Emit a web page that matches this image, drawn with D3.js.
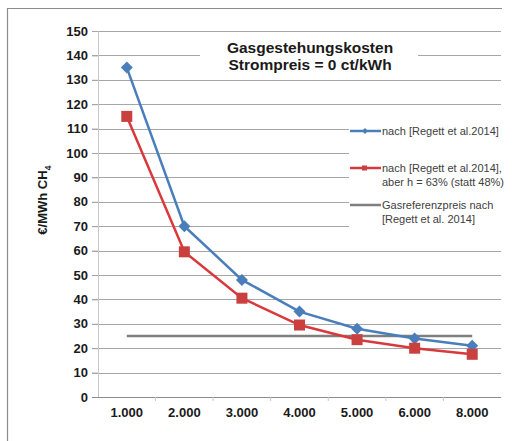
<!DOCTYPE html>
<html>
<head>
<meta charset="utf-8">
<script src="https://cdn.jsdelivr.net/npm/d3@7"></script>
<style>
  body { margin: 0; background: #fff; }
  svg { display: block; font-family: "Liberation Sans", Arial, sans-serif; }
</style>
</head>
<body>
<svg id="chart" width="521" height="441"></svg>
<script>
const categories = ["1.000", "2.000", "3.000", "4.000", "5.000", "6.000", "8.000"];
const seriesBlue = [135, 70, 48, 35, 28, 24, 21];
const seriesRed = [115, 59.5, 40.5, 29.5, 23.5, 20, 17.5];
const seriesRef = [25, 25, 25, 25, 25, 25, 25];
const yTicks = [0, 10, 20, 30, 40, 50, 60, 70, 80, 90, 100, 110, 120, 130, 140, 150];
const legendLabels = [
  ["nach [Regett et al.2014]"],
  ["nach [Regett et al.2014],", "aber h = 63% (statt 48%)"],
  ["Gasreferenzpreis nach", "[Regett et al. 2014]"]
];
const titleLines = ["Gasgestehungskosten", "Strompreis = 0 ct/kWh"];
const yTitle = "€/MWh CH";

const svg = d3.select("#chart");
const L = 98, R = 501, T = 31, B = 397;

const x = d3.scaleBand().domain(categories).range([L, R]);
const xc = c => x(c) + x.bandwidth() / 2;
const y = d3.scaleLinear().domain([0, 150]).range([B, T]);

// frame
svg.append("line").attr("x1", 7).attr("x2", 502).attr("y1", 8.5).attr("y2", 8.5)
  .attr("stroke", "#8c8c8c").attr("stroke-width", 1.2);
svg.append("line").attr("x1", 7.5).attr("x2", 7.5).attr("y1", 8).attr("y2", 441)
  .attr("stroke", "#8c8c8c").attr("stroke-width", 1.2);

// gridlines
svg.append("g").selectAll("line").data(yTicks.filter(d => d > 0)).join("line")
  .attr("x1", L - 6).attr("x2", R)
  .attr("y1", d => Math.round(y(d)) + 0.5).attr("y2", d => Math.round(y(d)) + 0.5)
  .attr("stroke", "#a6a6a6").attr("stroke-width", 1);

// y axis
const yAxis = svg.append("g").attr("transform", `translate(${L},0)`)
  .call(d3.axisLeft(y).tickValues(yTicks).tickSize(6).tickPadding(4));
yAxis.select(".domain").attr("stroke", "#c8c8c8");
yAxis.selectAll(".tick line").attr("stroke", "#a6a6a6");
yAxis.selectAll("text").attr("font-size", 13).attr("font-weight", "bold").attr("fill", "#1a1a1a");

// x axis
const xAxis = svg.append("g").attr("transform", `translate(0,${Math.round(B) + 0.5})`)
  .call(d3.axisBottom(x).tickSize(0).tickPadding(10));
xAxis.select(".domain").attr("stroke", "#8c8c8c").attr("d", `M${L - 6},0H${R}`);
xAxis.selectAll("text").attr("font-size", 13).attr("font-weight", "bold").attr("fill", "#1a1a1a");
svg.append("g").selectAll("line").data(categories.slice(1)).join("line")
  .attr("x1", d => x(d)).attr("x2", d => x(d))
  .attr("y1", B).attr("y2", B + 4).attr("stroke", "#c8c8c8");

// title background + title
svg.append("rect").attr("x", 200).attr("y", 36).attr("width", 218).attr("height", 40).attr("fill", "#fff");
svg.append("g").selectAll("text").data(titleLines).join("text")
  .attr("x", 310).attr("y", (d, i) => 53 + i * 17)
  .attr("text-anchor", "middle").attr("font-size", 15.5).attr("font-weight", "bold")
  .attr("fill", "#1a1a1a").text(d => d);

// y title
const yt = svg.append("text").attr("transform", "translate(47,200) rotate(-90)")
  .attr("text-anchor", "middle").attr("font-size", 13).attr("font-weight", "bold").attr("fill", "#1a1a1a");
yt.append("tspan").text(yTitle);
yt.append("tspan").attr("font-size", 9).attr("dy", 4).text("4");

// lines
const line = d3.line().x((d, i) => xc(categories[i])).y(d => y(d));
svg.append("path").datum(seriesRef).attr("d", line).attr("fill", "none")
  .attr("stroke", "#7f7f7f").attr("stroke-width", 2.5);
svg.append("path").datum(seriesBlue).attr("d", line).attr("fill", "none")
  .attr("stroke", "#4a7ebb").attr("stroke-width", 2.5);
svg.append("path").datum(seriesRed).attr("d", line).attr("fill", "none")
  .attr("stroke", "#d9383c").attr("stroke-width", 2.5);

// markers
svg.append("g").selectAll("path").data(seriesBlue).join("path")
  .attr("transform", (d, i) => `translate(${xc(categories[i])},${y(d)})`)
  .attr("d", "M0,-6L6,0L0,6L-6,0Z").attr("fill", "#4a7ebb");
svg.append("g").selectAll("rect").data(seriesRed).join("rect")
  .attr("x", (d, i) => xc(categories[i]) - 5.5).attr("y", d => y(d) - 5.5)
  .attr("width", 11).attr("height", 11).attr("fill", "#c9403e");

// legend
svg.append("rect").attr("x", 349).attr("y", 118).attr("width", 152).attr("height", 112).attr("fill", "#fff");
const legColors = ["#4a7ebb", "#d9383c", "#7f7f7f"];
const legY = [131, 168, 205];
const lg = svg.append("g");
legendLabels.forEach((lines, i) => {
  lg.append("line").attr("x1", 350).attr("x2", 381).attr("y1", legY[i]).attr("y2", legY[i])
    .attr("stroke", legColors[i]).attr("stroke-width", 2.5);
  if (i === 0) lg.append("path").attr("transform", `translate(365,${legY[i]})`).attr("d", "M0,-3L3,0L0,3L-3,0Z").attr("fill", legColors[i]);
  if (i === 1) lg.append("rect").attr("x", 362).attr("y", legY[i] - 2.5).attr("width", 5).attr("height", 5).attr("fill", "#c9403e");
  const t = lg.append("text").attr("x", 382).attr("y", legY[i] + 4)
    .attr("font-size", 11).attr("fill", "#404040");
  lines.forEach((s, j) => t.append("tspan").attr("x", 382).attr("dy", j === 0 ? 0 : 14).text(s));
});
</script>
</body>
</html>
